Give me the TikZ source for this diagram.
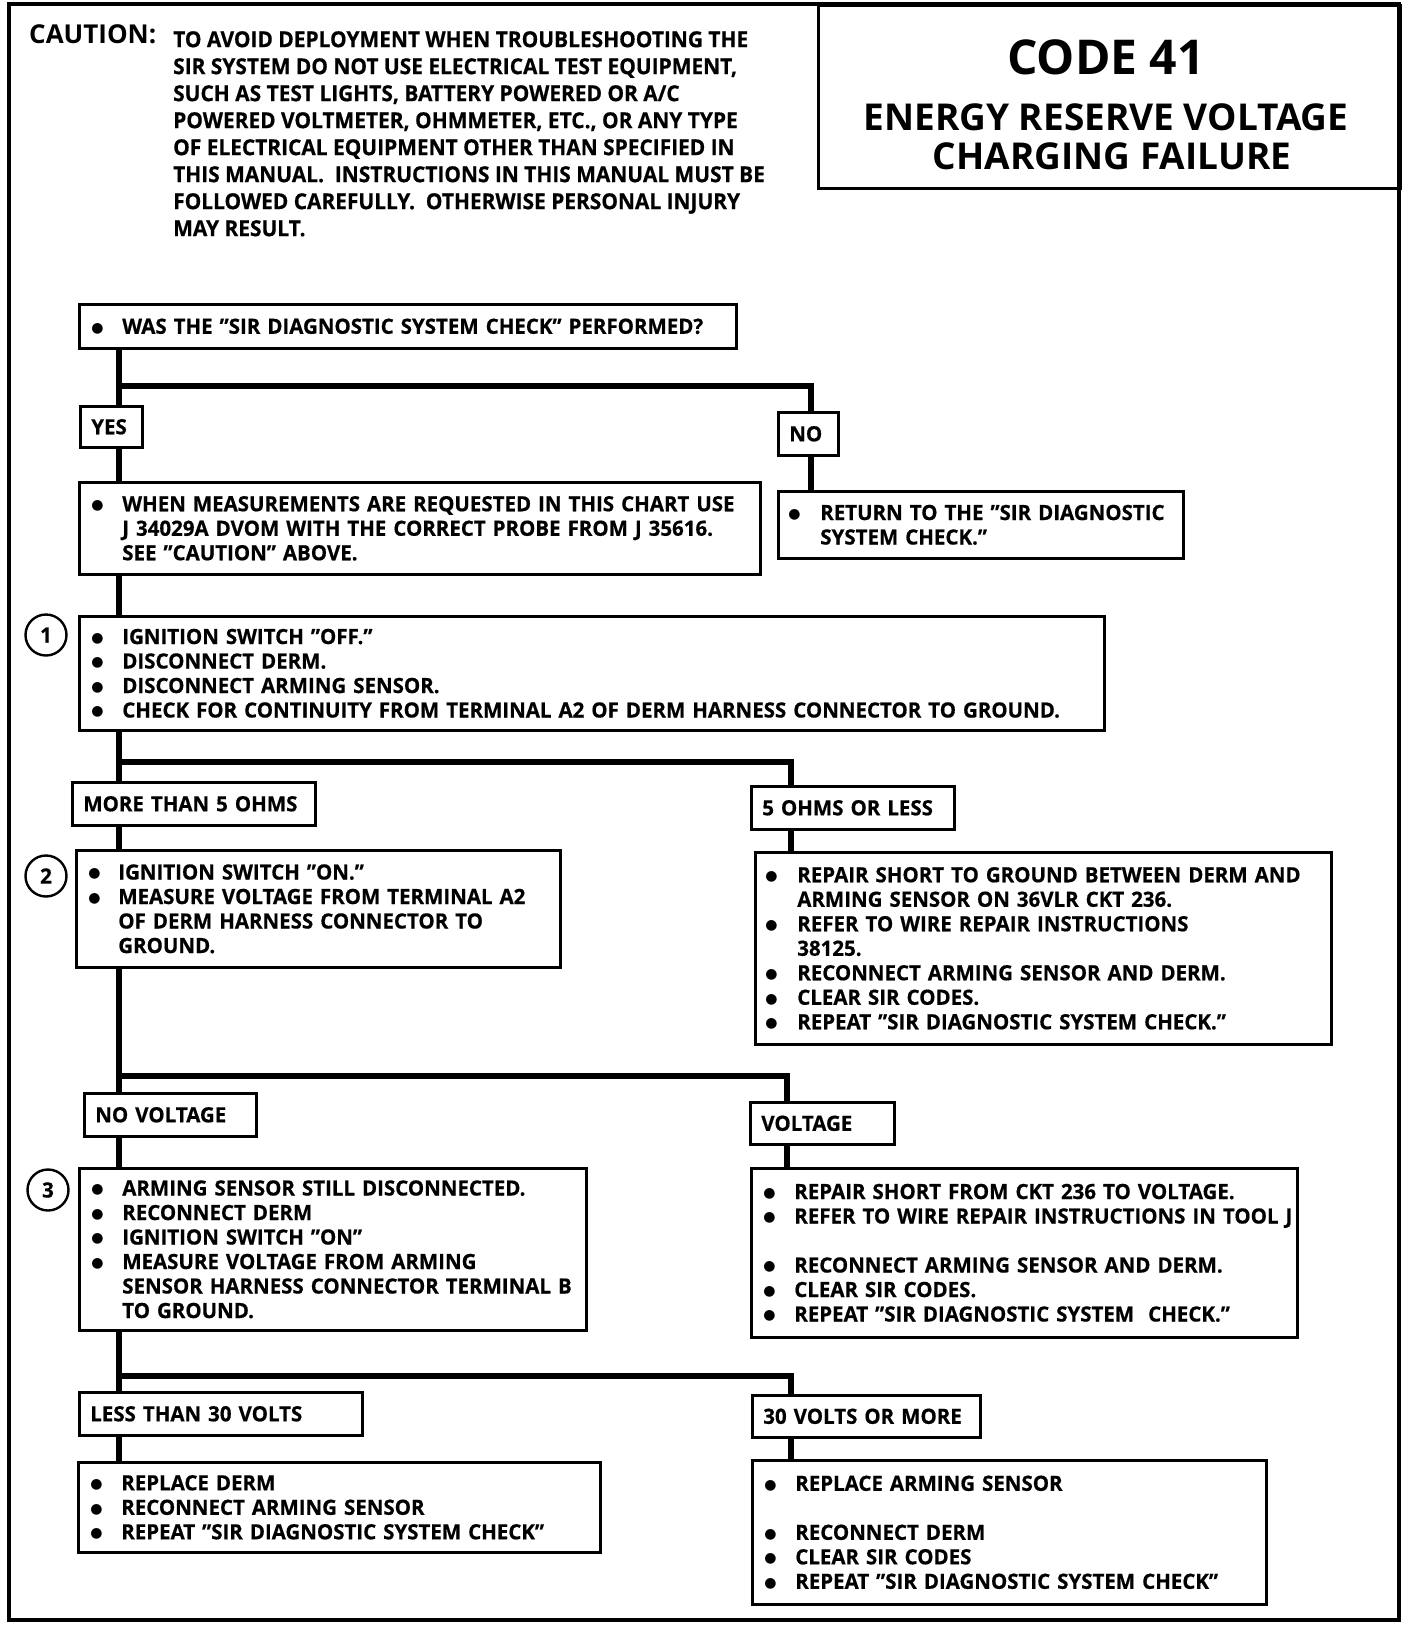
\documentclass[tikz,border=0pt]{standalone}
\usepackage{fontspec}
\setmainfont{Open Sans}
\newfontfamily\bodyfont{Open Sans}[FakeStretch=0.975,FakeBold=0.6]
\newfontfamily\cautfont{Open Sans}[FakeStretch=0.95,FakeBold=0.6]
\newfontfamily\dotfont{DejaVu Sans}
\newlength\bw
\setlength\bw{30pt}
\newcommand\bull{\raisebox{1.6pt}{\dotfont\fontsize{14}{14}\selectfont ●}}
\newcommand\bl[1]{\mbox{\makebox[\bw][l]{\hspace*{-1pt}\bull}#1}}
\newcommand\ct[1]{\mbox{\hspace*{\bw}#1}}
\newcommand\bfs[2]{\bfseries\fontsize{#1}{#2}\selectfont}
\newcommand\q{”}
\tikzset{
  every node/.style={font=\bodyfont\bfs{21}{24.5}},
  lbox/.style={draw, line width=2.6pt, fill=white, anchor=north west, inner ysep=0pt, inner xsep=11pt, align=left},
  listbox/.style={draw, line width=2.6pt, fill=white, anchor=north west, inner xsep=13pt, inner ysep=0pt, align=left},
  conn/.style={line width=5.5pt},
  circ/.style={draw, circle, line width=2.4pt, minimum size=41pt, inner sep=0pt, font=\bodyfont\bfs{21}{24}},
}
\begin{document}
\begin{tikzpicture}[x=1pt,y=-1pt]
\useasboundingbox (0,0) rectangle (1408,1628);
% frame
\draw[line width=4pt] (9,4) rectangle (1399,1620);
% title
\node[draw, line width=2.6pt, anchor=north west, minimum width=582pt, minimum height=183pt, inner sep=0pt] (title) at (817,4) {};
\node[inner sep=0pt, font=\rmfamily\bfs{48}{48}] (code) at (1106,57) {CODE 41};
\node[inner sep=0pt, font=\rmfamily\bfs{37}{40}] (t2) at (1106,117) {ENERGY RESERVE VOLTAGE};
\node[inner sep=0pt, font=\rmfamily\bfs{37}{40}] (t3) at (1112,156) {CHARGING FAILURE};
% caution
\node[inner sep=0pt, anchor=west, font=\rmfamily\bfs{26}{27}] (caut) at (29,34) {CAUTION:};
\node[inner sep=0pt, anchor=north west, align=left, font=\cautfont\bfs{22}{27}] (cauttext) at (173,31) {%
TO AVOID DEPLOYMENT WHEN TROUBLESHOOTING THE\\
SIR SYSTEM DO NOT USE ELECTRICAL TEST EQUIPMENT,\\
SUCH AS TEST LIGHTS, BATTERY POWERED OR A/C\\
POWERED VOLTMETER, OHMMETER, ETC., OR ANY TYPE\\
OF ELECTRICAL EQUIPMENT OTHER THAN SPECIFIED IN\\
THIS MANUAL.\ \ INSTRUCTIONS IN THIS MANUAL MUST BE\\
FOLLOWED CAREFULLY.\ \ OTHERWISE PERSONAL INJURY\\
MAY RESULT.};
% boxes
\node[listbox, text width=631pt, minimum height=44pt] (A) at (78,303) {\bl{WAS THE \q SIR DIAGNOSTIC SYSTEM CHECK\q{} PERFORMED?}};
\node[lbox, text width=40pt, minimum height=41pt] (yes) at (79,405) {\mbox{YES}};
\node[lbox, text width=38pt, minimum height=43pt] (no) at (777,411) {\mbox{NO}};
\node[listbox, inner xsep=11pt, text width=383pt, minimum height=67pt] (ret) at (777,490) {\setlength\bw{31pt}%
\bl{RETURN TO THE \q SIR DIAGNOSTIC}\\
\ct{SYSTEM CHECK.\q}};
\node[listbox, text width=655pt, minimum height=92pt] (B) at (78,481) {%
\bl{WHEN MEASUREMENTS ARE REQUESTED IN THIS CHART USE}\\
\ct{J 34029A DVOM WITH THE CORRECT PROBE FROM J 35616.}\\
\ct{SEE \q CAUTION\q{} ABOVE.}};
\node[listbox, text width=999pt, minimum height=114pt] (s1) at (78,615) {%
\bl{IGNITION SWITCH \q OFF.\q}\\
\bl{DISCONNECT DERM.}\\
\bl{DISCONNECT ARMING SENSOR.}\\
\bl{CHECK FOR CONTINUITY FROM TERMINAL A2 OF DERM HARNESS CONNECTOR TO GROUND.}};
\node[circ] (c1) at (46,635) {1};
\node[lbox, text width=221pt, minimum height=43pt] (more) at (71,781) {\mbox{MORE THAN 5 OHMS}};
\node[lbox, text width=181pt, minimum height=43pt] (ohm) at (750,785) {\mbox{5 OHMS OR LESS}};
\node[listbox, text width=458pt, minimum height=117pt] (s2) at (75,849) {\setlength\bw{29pt}%
\bl{IGNITION SWITCH \q ON.\q}\\
\bl{MEASURE VOLTAGE FROM TERMINAL A2}\\
\ct{OF DERM HARNESS CONNECTOR TO}\\
\ct{GROUND.}};
\node[circ] (c2) at (46,876) {2};
\node[listbox, inner xsep=11pt, text width=554pt, minimum height=192pt] (R1) at (754,851) {\setlength\bw{31pt}%
\bl{REPAIR SHORT TO GROUND BETWEEN DERM AND}\\
\ct{ARMING SENSOR ON 36VLR CKT 236.}\\
\bl{REFER TO WIRE REPAIR INSTRUCTIONS}\\
\ct{38125.}\\
\bl{RECONNECT ARMING SENSOR AND DERM.}\\
\bl{CLEAR SIR CODES.}\\
\bl{REPEAT \q SIR DIAGNOSTIC SYSTEM CHECK.\q}};
\node[lbox, text width=150pt, minimum height=43pt] (nov) at (83,1092) {\mbox{NO VOLTAGE}};
\node[lbox, text width=122pt, minimum height=42pt] (volt) at (749,1101) {\mbox{VOLTAGE}};
\node[listbox, text width=481pt, minimum height=162pt] (s3) at (78,1167) {%
\bl{ARMING SENSOR STILL DISCONNECTED.}\\
\bl{RECONNECT DERM}\\
\bl{IGNITION SWITCH \q ON\q}\\
\bl{MEASURE VOLTAGE FROM ARMING}\\
\ct{SENSOR HARNESS CONNECTOR TERMINAL B}\\
\ct{TO GROUND.}};
\node[circ] (c3) at (48,1190) {3};
\node[listbox, text width=520pt, minimum height=169pt] (R2) at (750,1167) {%
\bl{REPAIR SHORT FROM CKT 236 TO VOLTAGE.}\\
\bl{REFER TO WIRE REPAIR INSTRUCTIONS IN TOOL J}\\[24.5pt]
\bl{RECONNECT ARMING SENSOR AND DERM.}\\
\bl{CLEAR SIR CODES.}\\
\bl{REPEAT \q SIR DIAGNOSTIC SYSTEM\ \ CHECK.\q}};
\node[lbox, text width=261pt, minimum height=43pt] (less) at (78,1391) {\mbox{LESS THAN 30 VOLTS}};
\node[lbox, text width=206pt, minimum height=42pt] (v30) at (751,1394) {\mbox{30 VOLTS OR MORE}};
\node[listbox, text width=496pt, minimum height=90pt] (bl) at (77,1461) {%
\bl{REPLACE DERM}\\
\bl{RECONNECT ARMING SENSOR}\\
\bl{REPEAT \q SIR DIAGNOSTIC SYSTEM CHECK\q}};
\node[listbox, text width=488pt, minimum height=144pt] (br) at (751,1459) {%
\bl{REPLACE ARMING SENSOR}\\[24.5pt]
\bl{RECONNECT DERM}\\
\bl{CLEAR SIR CODES}\\
\bl{REPEAT \q SIR DIAGNOSTIC SYSTEM CHECK\q}};
% connectors
\coordinate (tx) at (119,0);
\coordinate (nx) at (811,0);
\coordinate (rx) at (791,0);
\coordinate (vx) at (787,0);
\coordinate (j1) at (119,386);
\coordinate (j2) at (119,762);
\coordinate (j3) at (119,1076);
\coordinate (j4) at (119,1376);
\draw[conn] (tx |- A.south) -- (tx |- yes.north);
\draw[conn] (j1) -| (nx |- no.north);
\draw[conn] (tx |- yes.south) -- (tx |- B.north);
\draw[conn] (nx |- no.south) -- (nx |- ret.north);
\draw[conn] (tx |- B.south) -- (tx |- s1.north);
\draw[conn] (tx |- s1.south) -- (tx |- more.north);
\draw[conn] (j2) -| (rx |- ohm.north);
\draw[conn] (tx |- more.south) -- (tx |- s2.north);
\draw[conn] (rx |- ohm.south) -- (rx |- R1.north);
\draw[conn] (tx |- s2.south) -- (tx |- nov.north);
\draw[conn] (j3) -| (vx |- volt.north);
\draw[conn] (tx |- nov.south) -- (tx |- s3.north);
\draw[conn] (vx |- volt.south) -- (vx |- R2.north);
\draw[conn] (tx |- s3.south) -- (tx |- less.north);
\draw[conn] (j4) -| (rx |- v30.north);
\draw[conn] (tx |- less.south) -- (tx |- bl.north);
\draw[conn] (rx |- v30.south) -- (rx |- br.north);
\end{tikzpicture}
\end{document}
